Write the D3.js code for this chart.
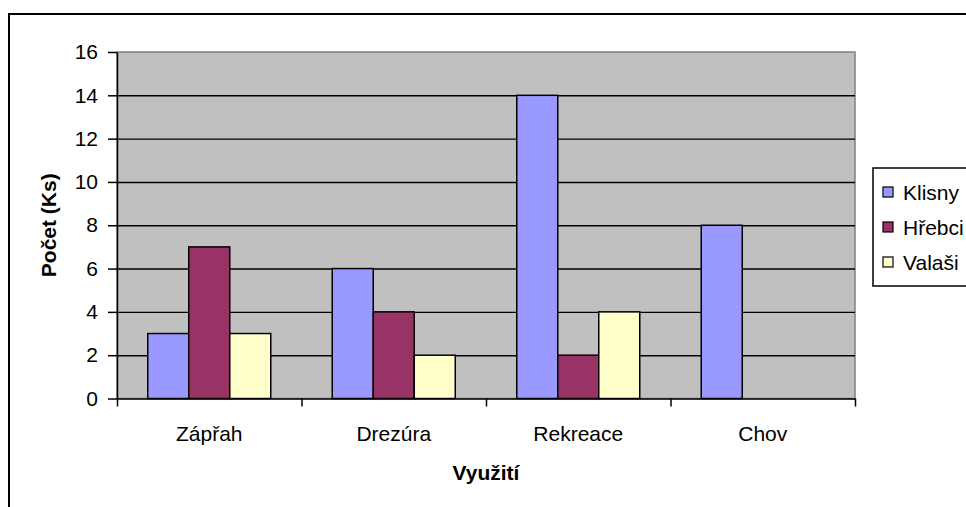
<!DOCTYPE html>
<html>
<head>
<meta charset="utf-8">
<style>
body { margin: 0; background: #fff; }
text { font-family: "Liberation Sans", Arial, sans-serif; fill: #000; }
.axis text { font-size: 21px; }
.axis path, .axis line { stroke: #000; }
.grid line { stroke: #000; stroke-width: 1.4px; }
.grid path { display: none; }
</style>
<title></title>
</head>
<body>
<script src="https://cdn.jsdelivr.net/npm/d3@7"></script>
<script>

var categories = ["Zápřah", "Drezúra", "Rekreace", "Chov"];
var series = ["Klisny", "Hřebci", "Valaši"];
var klisny = [3, 6, 14, 8];
var hrebci = [7, 4, 2, 0];
var valasi = [3, 2, 4, 0];
var yTicks = [0, 2, 4, 6, 8, 10, 12, 14, 16];
var colors = ["#9999FF", "#993366", "#FFFFCC"];

var width = 966,
    height = 507;

var plot = {left: 117, right: 855, top: 52, bottom: 398.5};

var values = [klisny, hrebci, valasi];
var data = categories.map(function(c, i) {
  return {
    category: c,
    bars: series.map(function(s, j) { return {series: s, value: values[j][i]}; })
  };
});

var svg = d3.select("body").append("svg")
    .attr("width", width)
    .attr("height", height);

// outer chart border (runs off the right/bottom edge)
svg.append("rect")
    .attr("x", 9)
    .attr("y", 14)
    .attr("width", width)
    .attr("height", height)
    .style("fill", "#fff")
    .style("stroke", "#000")
    .style("stroke-width", 2);

var x0 = d3.scaleBand()
    .domain(categories)
    .range([plot.left, plot.right])
    .padding(0);

var bw = x0.bandwidth();
var x1 = d3.scaleBand()
    .domain(series)
    .range([bw / 6, bw * 5 / 6])
    .padding(0);

var xEdge = d3.scaleLinear()
    .domain([0, categories.length])
    .range([plot.left, plot.right]);

var y = d3.scaleLinear()
    .domain([0, 16])
    .range([plot.bottom, plot.top]);

// plot area
svg.append("rect")
    .attr("x", plot.left)
    .attr("y", plot.top)
    .attr("width", plot.right - plot.left)
    .attr("height", plot.bottom - plot.top)
    .style("fill", "#C0C0C0")
    .style("stroke", "#808080")
    .style("stroke-width", 1.5);

// gridlines
svg.append("g")
    .attr("class", "grid")
    .attr("transform", "translate(" + plot.left + ",0)")
    .call(d3.axisLeft(y).tickValues(yTicks.slice(1, -1)).tickSize(-(plot.right - plot.left)).tickFormat(""));

// bars
var group = svg.append("g")
    .selectAll("g")
    .data(data)
    .enter()
    .append("g")
    .attr("transform", function(d) { return "translate(" + x0(d.category) + ",0)"; });

group.selectAll("rect")
    .data(function(d) { return d.bars.filter(function(b) { return b.value > 0; }); })
    .enter()
    .append("rect")
    .attr("x", function(d) { return x1(d.series); })
    .attr("y", function(d) { return y(d.value); })
    .attr("width", x1.bandwidth())
    .attr("height", function(d) { return y(0) - y(d.value); })
    .style("fill", function(d) { return colors[series.indexOf(d.series)]; })
    .style("stroke", "#000")
    .style("stroke-width", 1.5);

// y axis
svg.append("g")
    .attr("class", "axis")
    .attr("transform", "translate(" + plot.left + ",0)")
    .call(d3.axisLeft(y).tickValues(yTicks).tickSize(9).tickSizeOuter(0).tickPadding(10))
    .call(function(g) { g.selectAll("line, path").style("stroke-width", 1.5); });

// x axis: boundary ticks
svg.append("g")
    .attr("class", "axis")
    .attr("transform", "translate(0," + plot.bottom + ")")
    .call(d3.axisBottom(xEdge).tickValues(d3.range(categories.length + 1)).tickSize(8).tickSizeOuter(0).tickFormat(""))
    .call(function(g) { g.selectAll("line, path").style("stroke-width", 1.5); });

// x axis: category labels
svg.append("g")
    .attr("class", "axis")
    .attr("transform", "translate(0," + plot.bottom + ")")
    .call(d3.axisBottom(x0).tickSize(0).tickPadding(28))
    .call(function(g) { g.select(".domain").remove(); });

// axis titles
svg.append("text")
    .attr("x", (plot.left + plot.right) / 2)
    .attr("y", 480)
    .attr("text-anchor", "middle")
    .style("font-size", "21px")
    .style("font-weight", "bold")
    .text("Využití");

svg.append("text")
    .attr("transform", "translate(56," + (plot.top + plot.bottom) / 2 + ") rotate(-90)")
    .attr("text-anchor", "middle")
    .style("font-size", "21px")
    .style("font-weight", "bold")
    .text("Počet (Ks)");

// legend
var legend = svg.append("g");

legend.append("rect")
    .attr("x", 873)
    .attr("y", 168)
    .attr("width", 140)
    .attr("height", 118)
    .style("fill", "#fff")
    .style("stroke", "#000")
    .style("stroke-width", 1.5);

var item = legend.selectAll(".item")
    .data(series)
    .enter()
    .append("g")
    .attr("class", "item")
    .attr("transform", function(d, i) { return "translate(883," + (192 + i * 35) + ")"; });

item.append("rect")
    .attr("x", 0)
    .attr("y", -5)
    .attr("width", 10)
    .attr("height", 10)
    .style("fill", function(d, i) { return colors[i]; })
    .style("stroke", "#000")
    .style("stroke-width", 1.2);

item.append("text")
    .attr("x", 20)
    .attr("y", 7.5)
    .style("font-size", "21px")
    .text(function(d) { return d; });

</script>
</body>
</html>
